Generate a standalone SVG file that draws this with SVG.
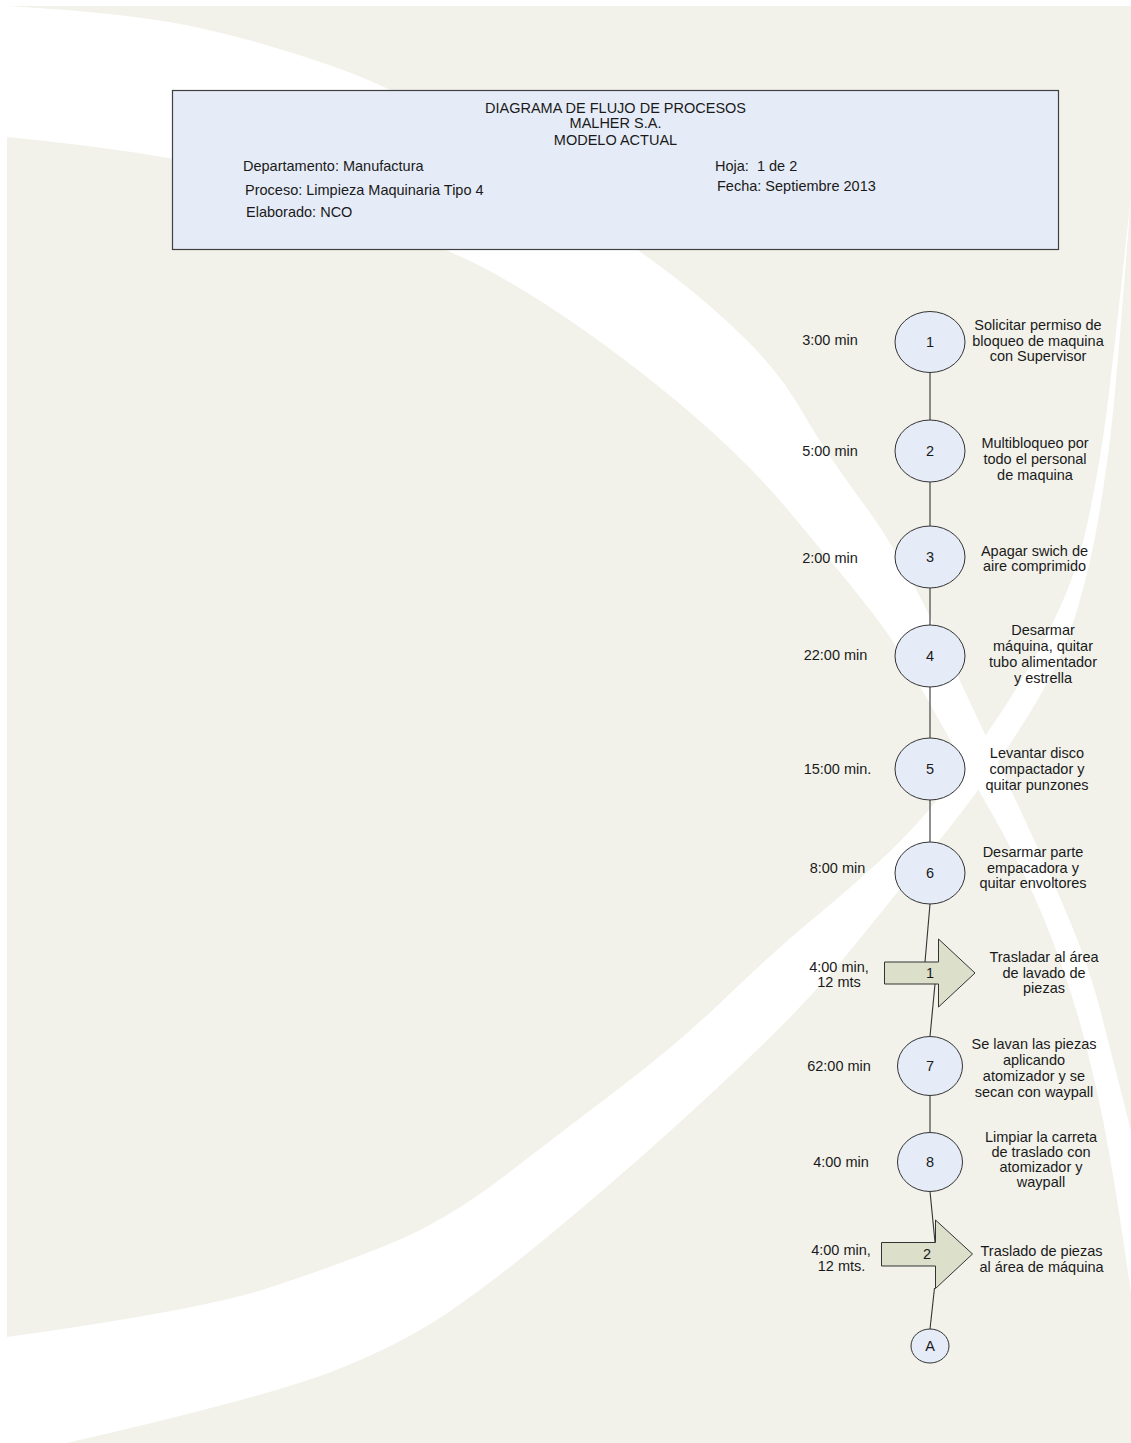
<svg xmlns="http://www.w3.org/2000/svg" width="1131" height="1443" viewBox="0 0 1131 1443">
<style>
text{font-family:"Liberation Sans",Arial,sans-serif;font-size:14.5px;fill:#1a1a1a}
.c{text-anchor:middle}
.node{fill:#e6ecf7;stroke:#333;stroke-width:1}
.arr{fill:#dcdfca;stroke:#333;stroke-width:1}
.con line{stroke:#333;stroke-width:1.1}
</style>
<rect width="1131" height="1443" fill="#fff"/>
<g id="background">
<rect x="7" y="6" width="1124" height="1437" fill="#f2f2eb"/>
<path fill="#fff" d="M 7,6 Q 133,13 200,28 Q 267,43 333.5,66.5 Q 400,90 460,129 Q 520,168 581,210 Q 642,252 677.5,279.5 Q 713,307 746.5,340 Q 780,373 803,413 Q 826,453 863,503 Q 900,553 934.5,626.5 Q 969,700 1011,790 Q 1053,880 1071.5,925 Q 1090,970 1101.5,1015 Q 1113,1060 1131,1131 L 1131,1293 Q 1118,1203 1108.5,1149 Q 1099,1095 1085,1041.5 Q 1071,988 1050,934 Q 1029,880 997,822.5 Q 964.5,765 932,707.5 Q 900,650 881.5,625 Q 863,600 838,570 Q 813,540 788,510 Q 763,480 730,448.5 Q 697,417 655,383.5 Q 613,350 571.5,321.5 Q 530,293 492.5,272.5 Q 455,252 377.5,222 Q 300,192 233.5,172.5 Q 167,153 7,137 Z"/>
<path fill="#fff" d="M 1131,195 Q 1110,394 1102,444.5 Q 1094,495 1085,534 Q 1076,573 1059.5,608.5 Q 1043,644 1026.5,672 Q 1010,700 987.5,732.5 Q 965,765 940,796.5 Q 915,828 884.5,856.5 Q 854,885 813.5,918.5 Q 773,952 726.5,997 Q 680,1042 621.5,1086.5 Q 563,1131 504.5,1176 Q 446,1221 389.5,1244 Q 333,1267 266.5,1288.5 Q 200,1310 7,1337 L 7,1443 L 67,1443 Q 267,1397 333.5,1371 Q 400,1345 446.5,1313.5 Q 493,1282 551.5,1233.5 Q 610,1185 668,1133 Q 726,1081 773,1034.5 Q 820,988 858,941 Q 896,894 938,842 Q 980,790 1010,744 Q 1040,698 1053.5,671 Q 1067,644 1077.5,608.5 Q 1088,573 1095,537 Q 1102,501 1109,447.5 Q 1116,394 1131,195 Z"/>
</g>
<g id="header">
<rect x="172.5" y="90.5" width="886" height="159" fill="#e6ecf7" stroke="#404040" stroke-width="1.2"/>
<text class="c" x="615.5" y="113">DIAGRAMA DE FLUJO DE PROCESOS</text>
<text class="c" x="615.5" y="128">MALHER S.A.</text>
<text class="c" x="615.5" y="145">MODELO ACTUAL</text>
<text x="243" y="171">Departamento: Manufactura</text>
<text x="245" y="195">Proceso: Limpieza Maquinaria Tipo 4</text>
<text x="246" y="217">Elaborado: NCO</text>
<text x="715" y="171">Hoja:&#160; 1 de 2</text>
<text x="717" y="191">Fecha: Septiembre 2013</text>
</g>
<g id="connectors" class="con">
<line x1="930" y1="373" x2="930" y2="420"/>
<line x1="930" y1="482" x2="930" y2="526"/>
<line x1="930" y1="588" x2="930" y2="625"/>
<line x1="930" y1="687" x2="930" y2="738"/>
<line x1="930" y1="800" x2="930" y2="842"/>
<line x1="930" y1="904" x2="925" y2="962"/>
<line x1="935" y1="984" x2="930" y2="1036.5"/>
<line x1="930" y1="1095.5" x2="930" y2="1132.7"/>
<line x1="930" y1="1191.5" x2="935" y2="1242"/>
<line x1="934.5" y1="1288" x2="930" y2="1329"/>
</g>
<g id="op1">
<ellipse class="node" cx="930" cy="342" rx="35" ry="30.5"/>
<text class="c" x="930" y="347">1</text>
<text class="c" x="830" y="345">3:00 min</text>
<text class="c" x="1038" y="330">Solicitar permiso de</text>
<text class="c" x="1038" y="346">bloqueo de maquina</text>
<text class="c" x="1038" y="361">con Supervisor</text>
</g>
<g id="op2">
<ellipse class="node" cx="930" cy="451" rx="35" ry="31"/>
<text class="c" x="930" y="456">2</text>
<text class="c" x="830" y="456">5:00 min</text>
<text class="c" x="1035" y="448">Multibloqueo por</text>
<text class="c" x="1035" y="464">todo el personal</text>
<text class="c" x="1035" y="480">de maquina</text>
</g>
<g id="op3">
<ellipse class="node" cx="930" cy="557" rx="35" ry="31"/>
<text class="c" x="930" y="562">3</text>
<text class="c" x="830" y="563">2:00 min</text>
<text class="c" x="1034.5" y="556">Apagar swich de</text>
<text class="c" x="1034.5" y="571">aire comprimido</text>
</g>
<g id="op4">
<ellipse class="node" cx="930" cy="656" rx="35" ry="31"/>
<text class="c" x="930" y="661">4</text>
<text class="c" x="835.5" y="660">22:00 min</text>
<text class="c" x="1043" y="635">Desarmar</text>
<text class="c" x="1043" y="651">máquina, quitar</text>
<text class="c" x="1043" y="667">tubo alimentador</text>
<text class="c" x="1043" y="683">y estrella</text>
</g>
<g id="op5">
<ellipse class="node" cx="930" cy="769" rx="35" ry="31"/>
<text class="c" x="930" y="774">5</text>
<text class="c" x="837.5" y="774">15:00 min.</text>
<text class="c" x="1037" y="758">Levantar disco</text>
<text class="c" x="1037" y="774">compactador y</text>
<text class="c" x="1037" y="790">quitar punzones</text>
</g>
<g id="op6">
<ellipse class="node" cx="930" cy="873" rx="35" ry="31"/>
<text class="c" x="930" y="878">6</text>
<text class="c" x="837.5" y="873">8:00 min</text>
<text class="c" x="1033" y="857">Desarmar parte</text>
<text class="c" x="1033" y="873">empacadora y</text>
<text class="c" x="1033" y="888">quitar envoltores</text>
</g>
<g id="tr1">
<polygon class="arr" points="884.5,962 938.5,962 938.5,939 975,973 938.5,1007 938.5,984 884.5,984"/>
<text class="c" x="930" y="978">1</text>
<text class="c" x="839" y="972">4:00 min,</text>
<text class="c" x="839" y="987">12 mts</text>
<text class="c" x="1044" y="962">Trasladar al área</text>
<text class="c" x="1044" y="977.5">de lavado de</text>
<text class="c" x="1044" y="993">piezas</text>
</g>
<g id="op7">
<ellipse class="node" cx="930" cy="1066" rx="32.5" ry="29.5"/>
<text class="c" x="930" y="1071">7</text>
<text class="c" x="839" y="1070.5">62:00 min</text>
<text class="c" x="1034" y="1049">Se lavan las piezas</text>
<text class="c" x="1034" y="1064.5">aplicando</text>
<text class="c" x="1034" y="1081">atomizador y se</text>
<text class="c" x="1034" y="1097">secan con waypall</text>
</g>
<g id="op8">
<ellipse class="node" cx="930" cy="1162" rx="32.5" ry="29.5"/>
<text class="c" x="930" y="1167">8</text>
<text class="c" x="841" y="1167">4:00 min</text>
<text class="c" x="1041" y="1142">Limpiar la carreta</text>
<text class="c" x="1041" y="1157">de traslado con</text>
<text class="c" x="1041" y="1172">atomizador y</text>
<text class="c" x="1041" y="1187">waypall</text>
</g>
<g id="tr2">
<polygon class="arr" points="881.5,1242.5 935.5,1242.5 935.5,1220 972.5,1254 935.5,1288.5 935.5,1266 881.5,1266"/>
<text class="c" x="927" y="1259">2</text>
<text class="c" x="841" y="1255">4:00 min,</text>
<text class="c" x="841.5" y="1271">12 mts.</text>
<text class="c" x="1041.5" y="1256">Traslado de piezas</text>
<text class="c" x="1041.5" y="1271.5">al área de máquina</text>
</g>
<g id="connA">
<ellipse class="node" cx="930" cy="1346" rx="19" ry="17"/>
<text class="c" x="930" y="1351">A</text>
</g>
</svg>
